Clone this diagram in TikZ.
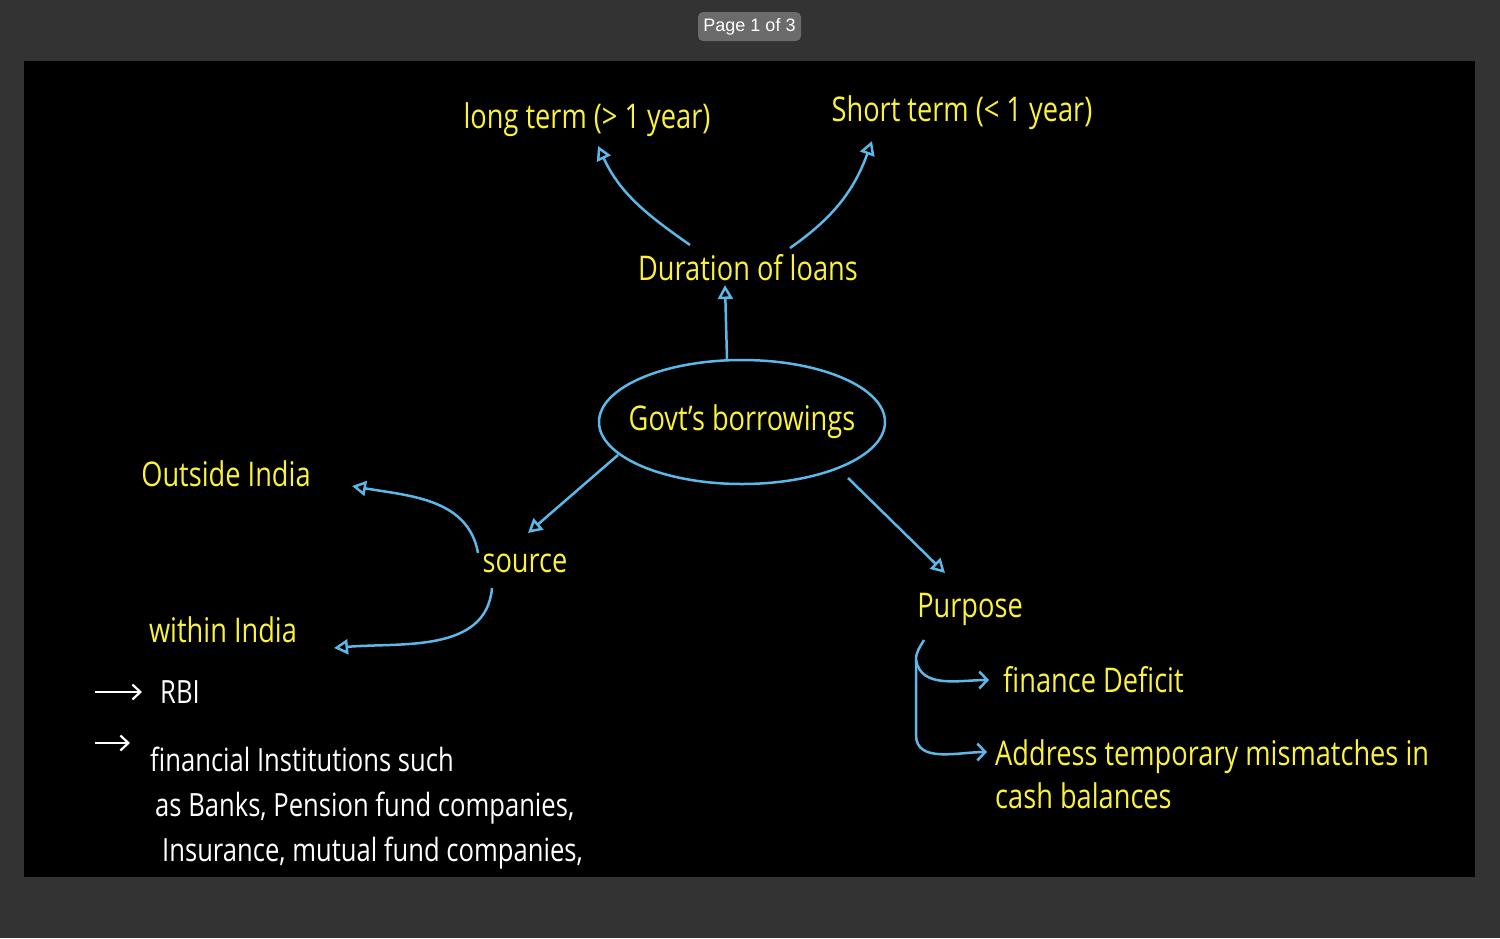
\documentclass[tikz,border=0pt]{standalone}
\usepackage{fontspec}
\setmainfont{Open Sans}[FakeStretch=0.8]
\newfontfamily\badgefont{Liberation Sans}
\usetikzlibrary{positioning,shapes.geometric,arrows.meta}
\definecolor{pagegray}{RGB}{51,51,51}
\definecolor{badgegray}{RGB}{107,107,107}
\definecolor{chalkyellow}{RGB}{250,242,60}
\definecolor{chalkblue}{RGB}{92,184,232}
\tikzset{
  chalk/.style={text=chalkyellow, font=\fontsize{34}{43}\selectfont, inner sep=2pt},
  note/.style={text=white, font=\fontsize{32}{45}\selectfont, inner sep=2pt, align=left},
  link/.style={draw=chalkblue, line width=2.5pt, -{Triangle[open,length=14pt,width=15pt]}},
  branch/.style={draw=chalkblue, line width=2.5pt, -{Straight Barb[length=8pt,width=17pt]}},
  pointer/.style={draw=white, line width=2.2pt, -{Straight Barb[length=8pt,width=15pt]}},
}
\begin{document}
\begin{tikzpicture}[on grid]
  % page and slide
  \useasboundingbox (0,0) rectangle (1500pt,-938pt);
  \fill[pagegray] (0,0) rectangle (1500pt,-938pt);
  \fill[black] (24pt,-61pt) rectangle (1475pt,-877pt);
  \node (badge) [fill=badgegray, rounded corners=5pt, text=white, font=\badgefont\fontsize{18}{18}\selectfont, minimum width=103pt, minimum height=29pt, inner sep=0pt] at (749.5pt,-26.5pt) {Page 1 of 3};

  \node (gov) [chalk, ellipse, draw=chalkblue, line width=2.5pt, inner xsep=-20pt, minimum width=286pt, minimum height=124pt] at (742pt,-422pt) {Govt's borrowings};
  \node (dur) [chalk, above right=154pt and 6pt of gov] {Duration of loans};
  \node (lt) [chalk, above left=148pt and 161pt of dur] {long term (> 1 year)};
  \node (st) [chalk, above right=155pt and 214pt of dur] {Short term (< 1 year)};
  \node (src) [chalk, below left=141pt and 217pt of gov] {source};
  \node (out) [chalk, above left=89pt and 299pt of src] {Outside India};
  \node (win) [chalk, below left=67pt and 302pt of src] {within India};
  \node (purp) [chalk, below right=187pt and 228pt of gov] {Purpose};
  \node (fin) [chalk, below right=71pt and 31pt of purp, anchor=west] {finance Deficit};
  \node (addr) [chalk, below right=128pt and 23pt of purp, anchor=north west, align=left] {Address temporary mismatches in\\cash balances};

  % within India list
  \node (rbi) [note, below left=62pt and 65pt of win, anchor=west] {RBI};
  \node (fi) [note, below left=53pt and 10pt of rbi.west, anchor=north west] {financial Institutions such\\\hspace*{5pt}as Banks, Pension fund companies,\\\hspace*{12pt}Insurance, mutual fund companies,};
  \coordinate[left=63pt of rbi.west] (rbitail);
  \coordinate[below left=51pt and 63pt of rbi.west] (fitail);

  \coordinate[below left=51pt and 54pt of purp] (brk);
  \coordinate[below=75pt of brk] (brk2);

  \draw[link] ([xshift=-15pt]gov.north) -- ([shift={(-23pt,-17pt)}]dur.center);
  \draw[link] ([shift={(-58pt,23pt)}]dur.center) to[out=145,in=-65] ([shift={(11pt,-26pt)}]lt.center);
  \draw[link] ([shift={(42pt,20pt)}]dur.center) to[out=35,in=-110] ([shift={(-90pt,-28pt)}]st.center);
  \draw[link] ([shift={(-124pt,-33pt)}]gov.center) -- ([shift={(3pt,30pt)}]src.center);
  \draw[link] ([shift={(-47pt,10pt)}]src.center) to[out=100,in=-10] ([shift={(126pt,-12pt)}]out.center);
  \draw[link] ([shift={(-33pt,-25pt)}]src.center) to[out=-95,in=5] ([shift={(111pt,-18pt)}]win.center);
  \draw[link] ([shift={(106pt,-56pt)}]gov.center) -- ([shift={(-25pt,36pt)}]purp.center);

  \draw[branch] ([shift={(-46pt,-31pt)}]purp.center) to[out=240,in=90] (brk) -- (brk2) to[out=-90,in=180] ([shift={(-6pt,-15pt)}]addr.north west);
  \draw[branch] (brk) to[out=-80,in=180] ([xshift=-12pt]fin.west);

  \draw[pointer] (rbitail) -- ([xshift=-16pt]rbi.west);
  \draw[pointer, shorten >=18pt] (fitail) -- (fitail -| fi.west);
\end{tikzpicture}
\end{document}
